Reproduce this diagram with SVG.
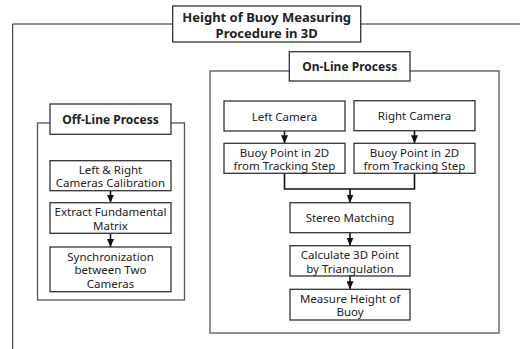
<svg xmlns="http://www.w3.org/2000/svg" width="520" height="349" viewBox="0 0 520 349">
<defs>
<style>
.box{fill:#fff;stroke:#333;stroke-width:1.3}
.frame{fill:none;stroke:#555;stroke-width:1.3}
.outer{fill:none;stroke:#222;stroke-width:1}
.t{font-family:"Noto Sans","Liberation Sans",sans-serif;font-size:11.5px;fill:#222;text-anchor:middle;dominant-baseline:central}
.b{font-weight:bold;font-size:12px}
.tb{font-weight:bold;font-size:13px}
.conn{fill:none;stroke:#111;stroke-width:1.6}
</style>
<marker id="ah" viewBox="0 0 8 7" refX="8" refY="3.5" markerWidth="8" markerHeight="7" markerUnits="userSpaceOnUse" orient="auto">
<path d="M0,0 L8,3.5 L0,7 Z" fill="#111"/>
</marker>
</defs>
<rect width="520" height="349" fill="#fff"/>
<g id="frames">
<path class="outer" d="M520,24 H12.7 V349"/>
<rect class="frame" x="210" y="71" width="289" height="262"/>
<rect class="frame" x="37.5" y="123" width="147" height="177"/>
</g>
<g id="connectors">
<path class="conn" marker-end="url(#ah)" d="M110.5,190.7 V202.7"/>
<path class="conn" marker-end="url(#ah)" d="M110.5,233.3 V247"/>
<path class="conn" marker-end="url(#ah)" d="M284.5,131 V143.3"/>
<path class="conn" marker-end="url(#ah)" d="M414.5,130.7 V143.3"/>
<path class="conn" d="M284.5,173.3 V189 H414.5 V173.3"/>
<path class="conn" marker-end="url(#ah)" d="M350,189 V202.7"/>
<path class="conn" marker-end="url(#ah)" d="M350,232.7 V245.7"/>
<path class="conn" marker-end="url(#ah)" d="M350,276 V289.3"/>
</g>
<g id="title">
<rect class="box" x="172.7" y="6" width="188" height="36"/>
<text class="t tb" x="266.7" y="16.5">Height of Buoy Measuring</text>
<text class="t tb" x="266.7" y="33">Procedure in 3D</text>
</g>
<g id="online-title">
<rect class="box" x="289.3" y="51.7" width="120.7" height="29.3"/>
<text class="t b" x="349.7" y="66.3">On-Line Process</text>
</g>
<g id="offline-title">
<rect class="box" x="50" y="104" width="121" height="30.3"/>
<text class="t b" x="110.5" y="119.2">Off-Line Process</text>
</g>
<g id="left-camera">
<rect class="box" x="224" y="101" width="121" height="30"/>
<text class="t" x="284.5" y="116">Left Camera</text>
</g>
<g id="right-camera">
<rect class="box" x="354" y="100.7" width="121" height="30"/>
<text class="t" x="414.5" y="115.7">Right Camera</text>
</g>
<g id="buoy-left">
<rect class="box" x="224" y="143.3" width="121" height="30"/>
<text class="t" x="284.5" y="152.3">Buoy Point in 2D</text>
<text class="t" x="284.5" y="165.8">from Tracking Step</text>
</g>
<g id="buoy-right">
<rect class="box" x="354" y="143.3" width="121" height="30"/>
<text class="t" x="414.5" y="152.3">Buoy Point in 2D</text>
<text class="t" x="414.5" y="165.8">from Tracking Step</text>
</g>
<g id="stereo">
<rect class="box" x="290" y="202.7" width="120" height="30"/>
<text class="t" x="350" y="217.7">Stereo Matching</text>
</g>
<g id="calculate">
<rect class="box" x="290" y="245.7" width="120" height="30.3"/>
<text class="t" x="350" y="254.5">Calculate 3D Point</text>
<text class="t" x="350" y="268">by Triangulation</text>
</g>
<g id="measure">
<rect class="box" x="290" y="289.3" width="120" height="30.7"/>
<text class="t" x="350" y="298.3">Measure Height of</text>
<text class="t" x="350" y="311.8">Buoy</text>
</g>
<g id="calibration">
<rect class="box" x="50" y="160.7" width="121" height="30"/>
<text class="t" x="110.5" y="169.3">Left &amp; Right</text>
<text class="t" x="110.5" y="182.8">Cameras Calibration</text>
</g>
<g id="extract">
<rect class="box" x="50" y="202.7" width="121" height="30.6"/>
<text class="t" x="110.5" y="211.5">Extract Fundamental</text>
<text class="t" x="110.5" y="225">Matrix</text>
</g>
<g id="sync">
<rect class="box" x="50" y="247" width="121" height="44.7"/>
<text class="t" x="110.5" y="256">Synchronization</text>
<text class="t" x="110.5" y="269.5">between Two</text>
<text class="t" x="110.5" y="283">Cameras</text>
</g>
</svg>
